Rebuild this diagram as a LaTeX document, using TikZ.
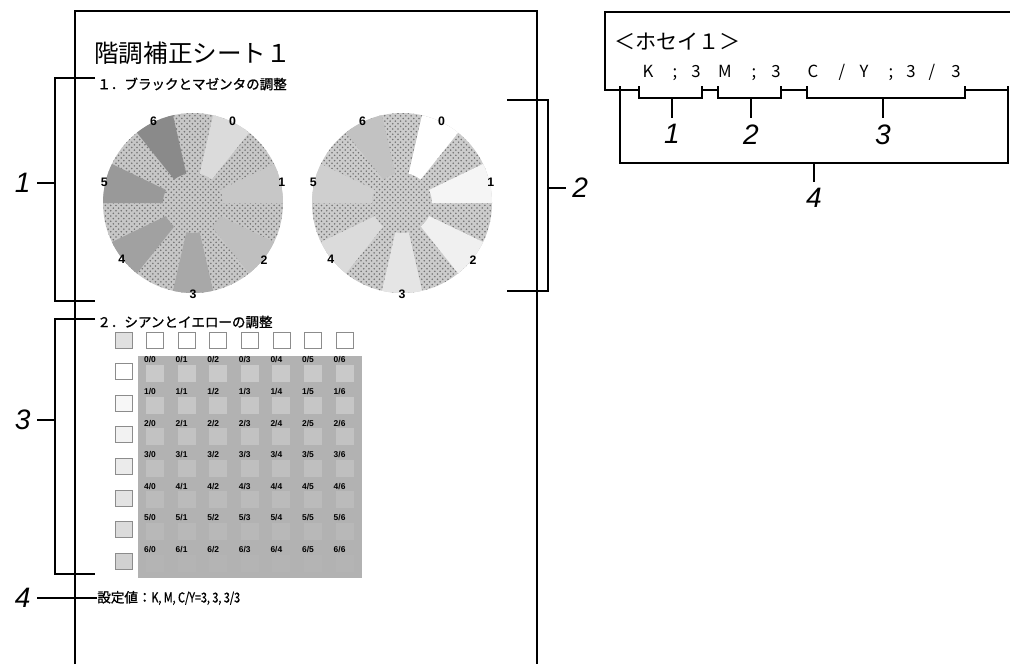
\documentclass[tikz,border=0pt]{standalone}
\usepackage{fontspec}
\usepackage{graphicx}
\setmainfont{Liberation Sans}
\newfontfamily\jpfont{Noto Sans CJK JP}
\newfontfamily\jpbold{Noto Sans CJK JP}[FakeBold=1.2]
\usetikzlibrary{patterns,positioning}

\begin{document}
\begin{tikzpicture}[x=0.02cm, y=-0.02cm,
    sheetline/.style={line width=0.8pt},
    bracket/.style={line width=0.6pt},
    callout/.style={font=\itshape\fontsize{16}{16}\selectfont},
    heading/.style={anchor=west, inner sep=0pt, font=\jpbold\fontsize{7.7}{8}\selectfont},
    wedgenum/.style={font=\bfseries\fontsize{7}{7}\selectfont, inner sep=0pt},
    cellnum/.style={font=\bfseries\fontsize{4.8}{4.8}\selectfont, inner sep=0pt},
    chip/.style={draw=black!45, line width=0.4pt},
    dotfill/.style={pattern=crosshatch dots, pattern color=black!55},
    valchar/.style={anchor=base, inner sep=0pt, font=\jpfont\fontsize{9.5}{10}\selectfont}
]
    \useasboundingbox (0,0) rectangle (1010,664);

    % the sheet
    \draw[sheetline] (75,664) |- (537,11) -- (537,664);
    \node[anchor=west, inner sep=0pt, font=\jpfont\fontsize{14}{14}\selectfont] (title) at (94,53) {階調補正シート１};
    \node[heading] (head1) at (97,84) {１．ブラックとマゼンタの調整};

    % black pie
    \begin{scope}[shift={(193,203)}]
        \fill[black!22] (0,0) circle (90);
        \fill[dotfill] (0,0) circle (90);
        \foreach \k/\col in {0/black!14, 1/black!22, 2/black!25, 3/black!34, 4/black!37, 5/black!40, 6/black!46} {
            \pgfmathsetmacro{\ang}{51.43*\k-64.3}
            \pgfmathsetmacro{\angA}{\ang-12.86}
            \pgfmathsetmacro{\angB}{\ang+12.86}
            \fill[\col] (\angA:30) -- (\angA:90) arc[start angle=\angA, end angle=\angB, radius=90]
                -- (\angB:30) arc[start angle=\angB, end angle=\angA, radius=30] -- cycle;
            \node[wedgenum] (kpie\k) at (\ang:91) {\k};
        }
    \end{scope}

    % magenta pie
    \begin{scope}[shift={(402,203)}]
        \fill[black!20] (0,0) circle (90);
        \fill[dotfill] (0,0) circle (90);
        \foreach \k/\col in {0/white, 1/black!4, 2/black!6, 3/black!10, 4/black!14, 5/black!19, 6/black!24} {
            \pgfmathsetmacro{\ang}{51.43*\k-64.3}
            \pgfmathsetmacro{\angA}{\ang-12.86}
            \pgfmathsetmacro{\angB}{\ang+12.86}
            \fill[\col] (\angA:30) -- (\angA:90) arc[start angle=\angA, end angle=\angB, radius=90]
                -- (\angB:30) arc[start angle=\angB, end angle=\angA, radius=30] -- cycle;
            \node[wedgenum] (mpie\k) at (\ang:91) {\k};
        }
    \end{scope}

    % cyan / yellow chart
    \node[heading] (head2) at (97,322) {２．シアンとイエローの調整};
    \foreach \i in {1,...,7}
        \draw[chip, fill=white] (115+31.6*\i,332) rectangle ++(17,16);
    \draw[chip, fill=black!12] (115,332) rectangle ++(17,16);
    \foreach \k/\tone in {1/0, 2/3, 3/5, 4/8, 5/11, 6/14, 7/18}
        \draw[chip, fill=black!\tone] (115,332+31.6*\k) rectangle ++(17,16);
    \fill[black!30] (138,356) rectangle (362,578);
    \foreach \r in {0,...,6} {
        \pgfmathsetmacro{\tone}{21+1.4*\r}
        \foreach \c in {0,...,6} {
            \fill[black!\tone] (146+31.6*\c,365+31.6*\r) rectangle ++(18,17);
            \node[cellnum] (cell\r\c) at (150+31.6*\c,360+31.6*\r) {\r/\c};
        }
    }
    \node[heading] (setting) at (97,598) {設定値：\scalebox{0.8}[1]{K, M, C/Y=3, 3, 3/3}};

    % callouts on the sheet
    \draw[bracket] (95,78) -| (55,301) -- (95,301);
    \draw[bracket] (95,319) -| (55,574) -- (95,574);
    \draw[bracket] (507,100) -| (548,291) -- (507,291);
    \coordinate (br1) at (55,183);
    \coordinate (br3) at (55,420);
    \coordinate (br2) at (548,188);
    \draw[bracket] (br1) -- ++(-18,0) node[left, callout] (lab1) {1};
    \draw[bracket] (br3) -- ++(-18,0) node[left, callout] (lab3) {3};
    \draw[bracket] (br2) -- ++(18,0) node[right, callout] (lab2) {2};
    \draw[bracket] (setting.west) -- ++(-60,0) node[left, callout] (lab4) {4};

    % panel display
    \draw[bracket] (1010,12) -| (605,90) -- (639,90);
    \draw[bracket] (702,90) -- (718,90);
    \draw[bracket] (781,90) -- (807,90);
    \draw[bracket] (965,90) -- (1008,90);
    \node[anchor=west, inner sep=0pt, font=\jpfont\fontsize{12}{12}\selectfont] (hosei) at (614,42) {＜ホセイ１＞};
    \foreach \px/\ch [count=\i] in {648/K, 675/;, 696/3, 725/M, 754/;, 776/3, 813/C, 842/{/}, 864/Y, 891/;, 911/3, 932/{/}, 956/3}
        \node[valchar] (val\i) at (\px,77) {\ch};
    \draw[bracket] (639,86) |- (702,98) -- (702,86);
    \draw[bracket] (718,86) |- (781,98) -- (781,86);
    \draw[bracket] (807,86) |- (965,98) -- (965,86);
    \draw[bracket] (620,86) |- (1008,163) -- (1008,86);
    \draw[bracket] (672,98) -- ++(0,20) node[below, callout] (plab1) {1};
    \draw[bracket] (751,98) -- ++(0,20) node[below, callout] (plab2) {2};
    \draw[bracket] (883,98) -- ++(0,20) node[below, callout] (plab3) {3};
    \draw[bracket] (814,163) -- ++(0,19) node[below, callout] (plab4) {4};
\end{tikzpicture}
\end{document}
